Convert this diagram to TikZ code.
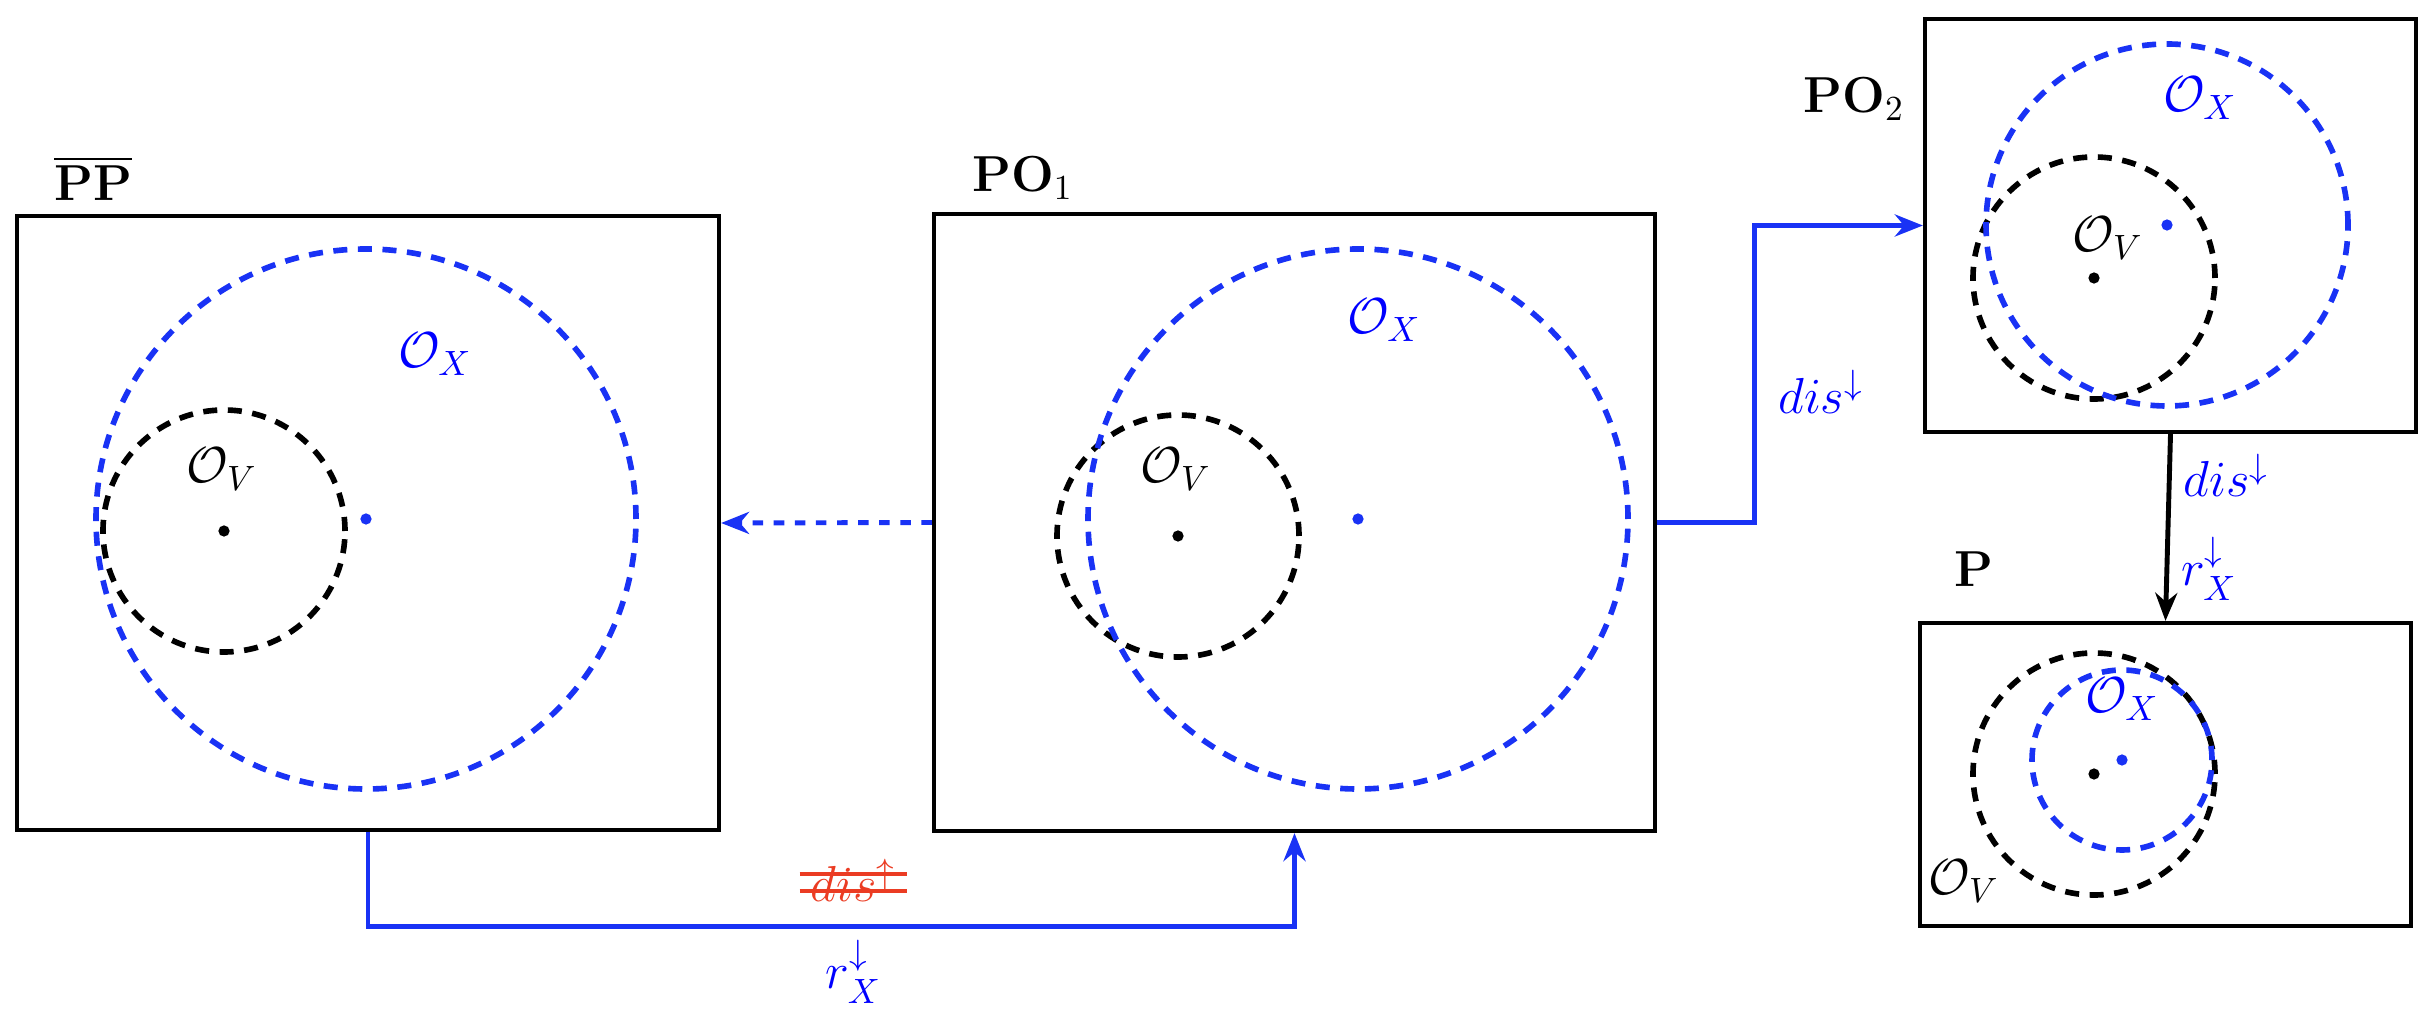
\documentclass[tikz,border=0pt]{standalone}
\usepackage{amsmath}
\usepackage{tikz}
\usetikzlibrary{arrows.meta,positioning,calc}
\definecolor{cblue}{RGB}{25,50,245}
\definecolor{cred}{RGB}{235,60,35}
\tikzset{
  blk/.style={draw, line width=1.2pt, rectangle, inner sep=0pt},
  arr/.style={-{Stealth[length=2.8mm, width=2.2mm]}, line width=1.4pt},
  ttl/.style={font=\Large},
  lbl/.style={font=\Large, text=blue},
  vcirc/.style={draw, line width=1.6pt, dash pattern=on 4pt off 3pt},
  xcirc/.style={vcirc, cblue}
}

\begin{document}
\begin{tikzpicture}
  \useasboundingbox (0,0) rectangle (24.36,-10.11);
  % boxes
  \node[blk, minimum width=7.02cm, minimum height=6.14cm] (pp)  at (3.68,-5.23) {};
  \node[blk, minimum width=7.21cm, minimum height=6.17cm] (po1) at (12.945,-5.225) {};
  \node[blk, minimum width=4.91cm, minimum height=4.13cm] (po2) at (21.705,-2.255) {};
  \node[blk, minimum width=4.91cm, minimum height=3.03cm] (p)   at (21.655,-7.745) {};

  % titles
  \node[ttl, anchor=base west] (ppt)  at ($(pp.north west)+(0.27,0.13)$)   {$\overline{\mathbf{PP}}$};
  \node[ttl, anchor=base west] (po1t) at ($(po1.north west)+(0.28,0.20)$)  {$\mathbf{PO}_1$};
  \node[ttl, anchor=base east] (po2t) at ($(po2.north west)+(-0.06,-0.96)$) {$\mathbf{PO}_2$};
  \node[ttl, anchor=base west] (pt)   at ($(p.north west)+(0.24,0.34)$)    {$\mathbf{P}$};

  % circles in PP
  \coordinate (ppv) at ($(pp)+(-1.44,-0.08)$);
  \coordinate (ppx) at ($(pp)+(-0.02,0.04)$);
  \draw[vcirc] (ppv) circle (1.21);
  \draw[xcirc] (ppx) circle (2.70);
  \fill (ppv) circle (1.6pt);
  \fill[cblue] (ppx) circle (1.6pt);
  \node[ttl] (ppvl) at ($(ppv)+(-0.02,0.62)$) {$\mathcal{O}_V$};
  \node[lbl] (ppxl) at ($(ppx)+(0.69,1.65)$)  {$\mathcal{O}_X$};

  % circles in PO1
  \coordinate (po1v) at ($(po1)+(-1.165,-0.135)$);
  \coordinate (po1x) at ($(po1)+(0.635,0.035)$);
  \draw[vcirc] (po1v) circle (1.21);
  \draw[xcirc] (po1x) circle (2.70);
  \fill (po1v) circle (1.6pt);
  \fill[cblue] (po1x) circle (1.6pt);
  \node[ttl] (po1vl) at ($(po1v)+(-0.02,0.67)$) {$\mathcal{O}_V$};
  \node[lbl] (po1xl) at ($(po1x)+(0.26,1.99)$)  {$\mathcal{O}_X$};

  % circles in PO2
  \coordinate (po2v) at ($(po2)+(-0.765,-0.525)$);
  \coordinate (po2x) at ($(po2)+(-0.035,0.005)$);
  \draw[vcirc] (po2v) circle (1.21);
  \draw[xcirc] (po2x) circle (1.81);
  \fill (po2v) circle (1.6pt);
  \fill[cblue] (po2x) circle (1.6pt);
  \node[ttl] (po2vl) at ($(po2v)+(0.14,0.40)$) {$\mathcal{O}_V$};
  \node[lbl] (po2xl) at ($(po2x)+(0.33,1.27)$) {$\mathcal{O}_X$};

  % circles in P
  \coordinate (pv) at ($(p)+(-0.715,0.005)$);
  \coordinate (px) at ($(p)+(-0.435,0.145)$);
  \draw[vcirc] (pv) circle (1.21);
  \draw[xcirc] (px) circle (0.90);
  \fill (pv) circle (1.6pt);
  \fill[cblue] (px) circle (1.6pt);
  \node[lbl] (pxl) at ($(px)+(0,0.61)$)       {$\mathcal{O}_X$};
  \node[ttl] (pvl) at ($(pv)+(-1.30,-1.07)$)  {$\mathcal{O}_V$};

  % connectors
  \draw[arr, cblue, dashed] (po1.west) -- (pp.east);
  \draw[arr, cblue] (pp.south) -- ++(0,-0.94) -|
    node[pos=0.262, above=1mm, font=\Large, text=cred] (nodis) {$dis^{\uparrow}$}
    node[pos=0.262, below=0mm, lbl] (rx1) {$r_X^{\downarrow}$} (po1.south);
  \draw[cred, line width=1.2pt] ($(nodis.base west)+(0.03,0.11)$) -- ($(nodis.base east)+(-0.03,0.11)$);
  \draw[cred, line width=1.2pt] ($(nodis.base west)+(0.03,0.28)$) -- ($(nodis.base east)+(-0.03,0.28)$);
  \draw[arr, cblue] (po1.east) -- ++(0.97,0) |-
    node[pos=0.22, right=1mm, lbl] (dis1) {$dis^{\downarrow}$} (po2.west);
  \draw[arr] (po2.south) --
    node[pos=0.22, right, lbl] (dis2) {$dis^{\downarrow}$}
    node[pos=0.72, right, lbl] (rx2) {$r_X^{\downarrow}$} (p.north);
\end{tikzpicture}
\end{document}
